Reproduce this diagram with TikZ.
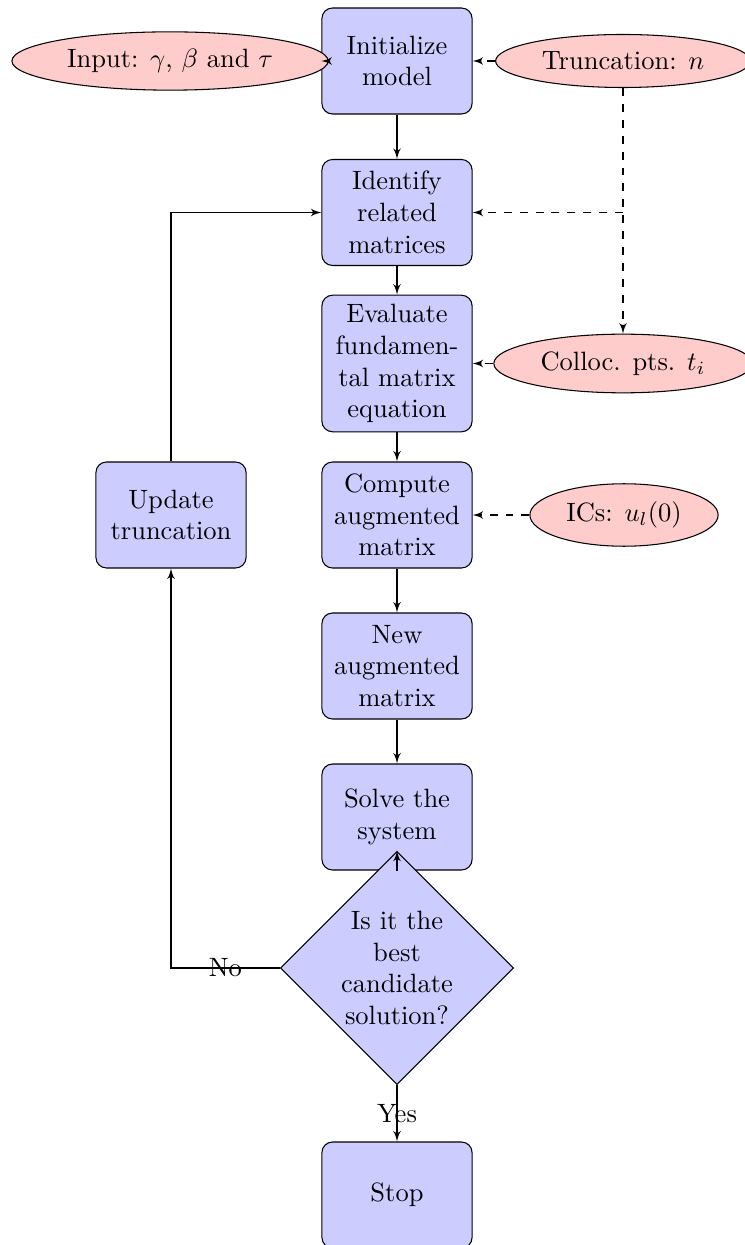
\documentclass[tikz,border=0pt]{standalone}
\usetikzlibrary{arrows,shapes.geometric}
\begin{document}
\begin{tikzpicture}[x=0.37736pt,y=-0.37736pt,
  block/.style={rectangle, draw, fill=blue!20, text width=5em, align=center, rounded corners, minimum height=4em},
  decision/.style={diamond, draw, fill=blue!20, text width=4.5em, align=center, inner sep=0pt},
  cloud/.style={draw, ellipse, fill=red!20, minimum height=2em},
  line/.style={draw, -latex'}]
\useasboundingbox (0,0) rectangle (744,1245);
\node[block] (init) at (397,61) {Initialize\\ model};
\node[block] (identify) at (397,212.5) {Identify\\ related\\ matrices};
\node[block] (evaluate) at (397,363.5) {Evaluate\\ fundamen-\\tal matrix\\ equation};
\node[block] (compute) at (397,515) {Compute\\ augmented\\ matrix};
\node[block] (new) at (397,666) {New\\ augmented\\ matrix};
\node[block] (solve) at (397,817) {Solve the\\ system};
\node[decision] (decide) at (397,968) {Is it the\\ best\\ candidate\\ solution?};
\node[block] (stop) at (397,1195) {Stop};
\node[block] (update) at (171,515) {Update\\ truncation};
\node[cloud] (input) at (170,61) {Input: $\gamma$, $\beta$ and $\tau$};
\node[cloud] (trunc) at (623,61) {Truncation: $n$};
\node[cloud] (colloc) at (623,363.5) {Colloc. pts. $t_i$};
\node[cloud] (ics) at (624,515) {ICs: $u_l(0)$};
\coordinate (branch) at (trunc.south |- identify);
\path[line] (init) -- (identify);
\path[line] (identify) -- (evaluate);
\path[line] (evaluate) -- (compute);
\path[line] (compute) -- (new);
\path[line] (new) -- (solve);
\path[line] (solve) -- (decide);
\path[line] (decide) -| node[near start] {No} (update);
\path[line] (update) |- (identify);
\path[line] (decide) -- node {Yes} (stop);
\path[line,dashed] (input) -- (init);
\path[line,dashed] (trunc) -- (init);
\path[line,dashed] (trunc) -- (colloc);
\path[line,dashed] (branch) -- (identify);
\path[line,dashed] (colloc) -- (evaluate);
\path[line,dashed] (ics) -- (compute);
\end{tikzpicture}
\end{document}
